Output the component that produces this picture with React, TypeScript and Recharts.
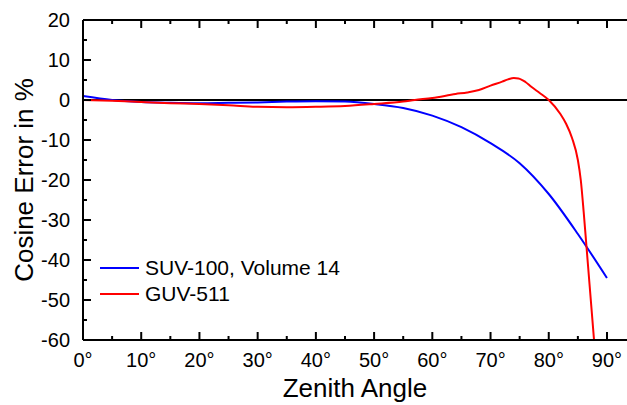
import { LineChart, Line, XAxis, YAxis, ReferenceLine } from 'recharts';

const xTicks = [0, 5, 10, 15, 20, 25, 30, 35, 40, 45, 50, 55, 60, 65, 70, 75, 80, 85, 90];
const yTicks = [-60, -55, -50, -45, -40, -35, -30, -25, -20, -15, -10, -5, 0, 5, 10, 15, 20];

const suvAngles = [0, 5, 10, 15, 20, 25, 30, 35, 40, 45, 50, 55, 60, 65, 70, 75, 80, 85, 90];
const suvValues = [1, 0, -0.5, -0.7, -0.8, -0.7, -0.6, -0.4, -0.3, -0.4, -1, -2, -3.9, -6.8, -10.8, -15.8, -23.5, -33.5, -44.5];

const guvAngles = [0, 5, 10, 15, 20, 25, 30, 35, 40, 45, 50, 55, 57, 60, 64, 66, 68, 70, 72, 73, 74, 74.8, 76, 77, 78.5, 80, 82, 83, 84, 85, 85.5, 86, 86.5, 87, 88];
const guvValues = [0, -0.2, -0.5, -0.8, -1, -1.3, -1.7, -1.8, -1.7, -1.5, -1, -0.4, 0, 0.5, 1.5, 1.9, 2.5, 3.6, 4.6, 5.15, 5.5, 5.4, 4.5, 3.3, 1.7, 0, -3.5, -6, -9.5, -15, -20, -28, -37, -46, -64];

const suvName = 'SUV-100, Volume 14';
const guvName = 'GUV-511';
const xTitle = 'Zenith Angle';
const yTitle = 'Cosine Error in %';

const suvData = suvAngles.map((a, i) => ({ x: a, y: suvValues[i] }));
const guvData = guvAngles.map((a, i) => ({ x: a, y: guvValues[i] }));

const legendItems = [
  { name: suvName, color: '#0000ff' },
  { name: guvName, color: '#ff0000' },
];

const font = '"Liberation Sans", Arial, Helvetica, sans-serif';

// tick marks point into the plot; minor ticks every 5, labels every 10
function BottomTick({ x, y, payload }: any) {
  const major = payload.value % 10 === 0;
  return (
    <g>
      <line x1={x} x2={x} y1={y} y2={y - (major ? 8 : 4)} stroke="#000" strokeWidth={2} />
      {major && (
        <text x={x} y={y + 27} textAnchor="middle" fontSize={20} fontFamily={font} fill="#000">
          {payload.value}°
        </text>
      )}
    </g>
  );
}

function TopTick({ x, y, payload }: any) {
  const major = payload.value % 10 === 0;
  return <line x1={x} x2={x} y1={y} y2={y + (major ? 8 : 4)} stroke="#000" strokeWidth={2} />;
}

function LeftTick({ x, y, payload }: any) {
  const major = payload.value % 10 === 0;
  return (
    <g>
      <line x1={x} x2={x + (major ? 8 : 4)} y1={y} y2={y} stroke="#000" strokeWidth={2} />
      {major && (
        <text x={x - 13} y={y + 7} textAnchor="end" fontSize={20} fontFamily={font} fill="#000">
          {payload.value}
        </text>
      )}
    </g>
  );
}

export default function App() {
  return (
    <div style={{ position: 'absolute', left: 0, top: 0 }}>
      <LineChart width={627} height={405} margin={{ top: 19, right: 0, bottom: 0, left: 0 }}>
        <XAxis
          xAxisId="b"
          type="number"
          dataKey="x"
          domain={[0, 93.44]}
          ticks={xTicks}
          interval={0}
          height={65}
          tickSize={0}
          tickMargin={0}
          tickLine={false}
          tick={<BottomTick />}
          axisLine={{ stroke: '#000', strokeWidth: 2 }}
          allowDataOverflow
        />
        <XAxis
          xAxisId="t"
          orientation="top"
          type="number"
          dataKey="x"
          domain={[0, 93.44]}
          ticks={xTicks}
          interval={0}
          height={1}
          tickSize={0}
          tickMargin={0}
          tickLine={false}
          tick={<TopTick />}
          axisLine={{ stroke: '#000', strokeWidth: 2 }}
          allowDataOverflow
        />
        <YAxis
          type="number"
          domain={[-60, 20]}
          ticks={yTicks}
          interval={0}
          width={83}
          tickSize={0}
          tickMargin={0}
          tickLine={false}
          tick={<LeftTick />}
          axisLine={{ stroke: '#000', strokeWidth: 2 }}
          allowDataOverflow
        />
        <ReferenceLine xAxisId="b" y={0} stroke="#000" strokeWidth={2} />
        <Line xAxisId="b" data={suvData} dataKey="y" type="monotone" stroke="#0000ff" strokeWidth={2} dot={false} isAnimationActive={false} />
        <Line xAxisId="b" data={guvData} dataKey="y" type="monotone" stroke="#ff0000" strokeWidth={2} dot={false} isAnimationActive={false} />
      </LineChart>
      <svg width={627} height={405} style={{ position: 'absolute', left: 0, top: 0, pointerEvents: 'none' }}>
        <text x={355} y={397} textAnchor="middle" fontSize={26} fontFamily={font} fill="#000">
          {xTitle}
        </text>
        <text x={33} y={180} textAnchor="middle" fontSize={26} fontFamily={font} fill="#000" transform="rotate(-90, 33, 180)">
          {yTitle}
        </text>
      </svg>
      <div style={{ position: 'absolute', left: 100, top: 255, fontFamily: font, fontSize: 21, color: '#000' }}>
        {legendItems.map((s) => (
          <div key={s.name} style={{ display: 'flex', alignItems: 'center', height: 26 }}>
            <svg width={39} height={4}>
              <line x1={0} x2={39} y1={2} y2={2} stroke={s.color} strokeWidth={2} />
            </svg>
            <span style={{ marginLeft: 6, lineHeight: '26px', whiteSpace: 'nowrap' }}>{s.name}</span>
          </div>
        ))}
      </div>
    </div>
  );
}
